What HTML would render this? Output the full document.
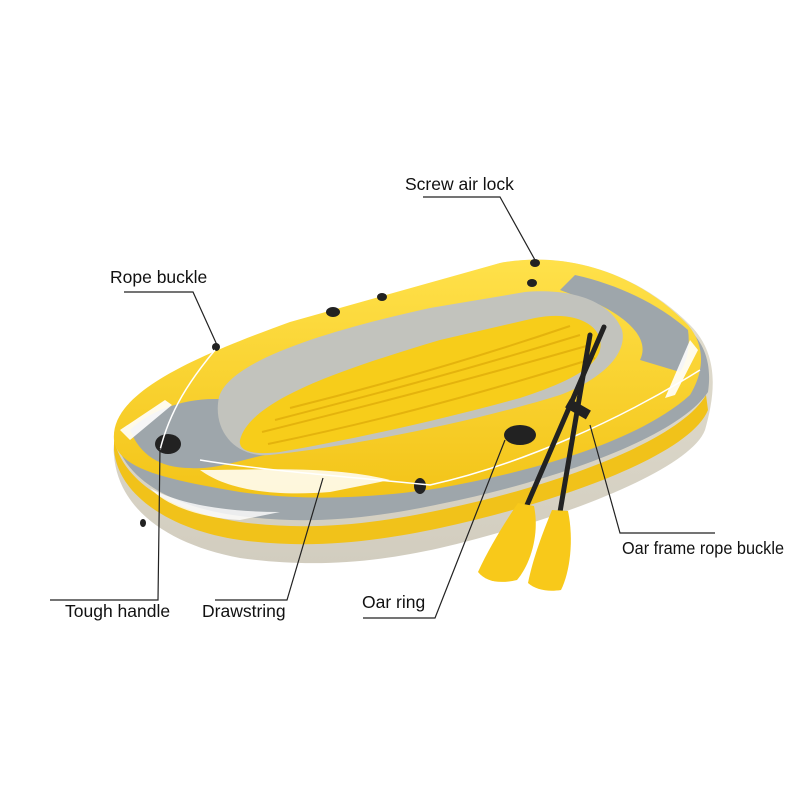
<!DOCTYPE html>
<html><head><meta charset="utf-8"><style>
html,body{margin:0;padding:0;background:#fff;}
svg{display:block}
text{font-family:"Liberation Sans",sans-serif;font-size:17.5px;fill:#111;}
</style></head><body>
<svg width="800" height="800" viewBox="0 0 800 800">
<defs>
<linearGradient id="yel" x1="0" y1="0" x2="0" y2="1"><stop offset="0" stop-color="#ffe14a"/><stop offset="1" stop-color="#f3c418"/></linearGradient>
<linearGradient id="base" x1="0" y1="0" x2="0" y2="1"><stop offset="0" stop-color="#e4e0d2"/><stop offset="1" stop-color="#d2cdbf"/></linearGradient>
</defs>
<path d="M114,455 C108,410 180,365 290,325 L500,263 C570,250 640,275 690,325 C720,355 715,395 705,430 C690,470 560,520 440,548 C360,566 300,566 240,558 C170,545 118,510 114,455 Z" fill="url(#base)"/>
<path d="M114,450 C118,495 170,530 240,540 C300,548 360,545 440,528 C560,502 690,455 708,410 L706,395 C680,440 560,485 440,510 C360,527 300,530 240,522 C175,512 125,485 114,440 Z" fill="#f1c21a"/>
<path d="M116,440 C125,480 175,508 240,516 C300,524 360,521 440,504 C560,480 680,435 708,392 C712,365 705,345 690,330 L640,380 C600,420 520,450 440,470 C360,488 290,490 230,480 C180,470 140,450 125,415 Z" fill="#9ea6ab"/>
<path d="M114,440 C110,395 185,360 290,322 L500,263 C570,250 640,275 688,325 C705,345 705,370 690,395 C640,440 540,470 440,488 C360,500 300,500 240,492 C170,480 118,470 114,440 Z" fill="url(#yel)"/>
<path d="M575,275 C620,285 660,305 688,330 C690,345 688,360 680,372 L640,360 C650,340 630,320 600,305 L560,290 Z" fill="#9ea6ab"/>
<path d="M130,430 C150,410 190,395 230,400 L265,455 C240,460 215,470 190,468 C160,468 140,455 130,430 Z" fill="#9ea6ab"/>
<path d="M200,470 C260,470 330,465 390,480 L330,492 C280,496 230,492 200,470 Z" fill="#fff" opacity="0.85"/>
<path d="M690,340 L665,398 L675,395 L698,350 Z" fill="#fff" opacity="0.9"/>
<path d="M120,430 L165,400 L172,405 L130,440 Z" fill="#fff" opacity="0.9"/>
<path d="M150,488 C180,505 230,512 280,512 L240,520 C200,518 165,505 150,488 Z" fill="#fff" opacity="0.8"/>
<path d="M219,397 C230,360 330,330 430,308 L525,292 C570,288 610,300 622,330 C628,355 600,380 560,395 C480,420 360,445 270,455 C235,458 212,430 219,397 Z" fill="#c2c3bd"/>
<path d="M240,440 C250,400 340,370 440,340 L535,318 C575,310 605,325 600,350 C595,370 560,385 520,398 C440,420 350,440 280,452 C255,455 238,452 240,440 Z" fill="#f7cd1a"/>
<g stroke="#e0ad0a" stroke-width="2" fill="none" opacity="0.8">
<path d="M262,432 C350,410 450,385 590,345"/>
<path d="M275,420 C360,398 460,372 580,335"/>
<path d="M290,408 C370,388 470,360 570,326"/>
<path d="M268,444 C360,425 460,400 595,358"/>
</g>
<g fill="#222">
<ellipse cx="333" cy="312" rx="7" ry="5"/><ellipse cx="382" cy="297" rx="5" ry="4"/>
<ellipse cx="216" cy="347" rx="4" ry="4"/><ellipse cx="535" cy="263" rx="5" ry="4"/>
<ellipse cx="532" cy="283" rx="5" ry="4"/><ellipse cx="168" cy="444" rx="13" ry="10"/>
<ellipse cx="420" cy="486" rx="6" ry="8"/><ellipse cx="520" cy="435" rx="16" ry="10"/>
<ellipse cx="143" cy="523" rx="3" ry="4"/>
</g>
<path d="M200,460 C260,470 330,475 430,485 C520,465 620,420 700,370" stroke="#fff" stroke-width="1.5" fill="none"/>
<path d="M215,350 C190,380 170,410 160,450" stroke="#fff" stroke-width="1.5" fill="none"/>
<g stroke="#222" stroke-width="5" stroke-linecap="round">
<line x1="604" y1="327" x2="527" y2="505"/>
<line x1="590" y1="335" x2="560" y2="512"/>
</g>
<rect x="566" y="404" width="24" height="10" fill="#222" transform="rotate(30 578 409)"/>
<path d="M518,503 L534,506 C540,535 530,565 517,580 C500,584 486,582 478,572 C488,550 503,525 518,503 Z" fill="#f8c91a"/>
<path d="M552,510 L568,511 C574,540 570,572 561,590 C548,592 536,590 528,583 C533,558 543,532 552,510 Z" fill="#f8c91a"/>
<g stroke="#222" stroke-width="1.2" fill="none">
<polyline points="423,197 500,197 535,260"/>
<polyline points="124,292 193,292 217,345"/>
<polyline points="50,600 158,600 160,448"/>
<polyline points="215,600 287,600 323,478"/>
<polyline points="363,618 435,618 505,440"/>
<polyline points="715,533 620,533 590,425"/>
</g>
<text x="405" y="190">Screw air lock</text>
<text x="110" y="283">Rope buckle</text>
<text x="65" y="617">Tough handle</text>
<text x="202" y="617">Drawstring</text>
<text x="362" y="608">Oar ring</text>
<text x="622" y="554" textLength="162" lengthAdjust="spacingAndGlyphs">Oar frame rope buckle</text>
</svg>
</body></html>
